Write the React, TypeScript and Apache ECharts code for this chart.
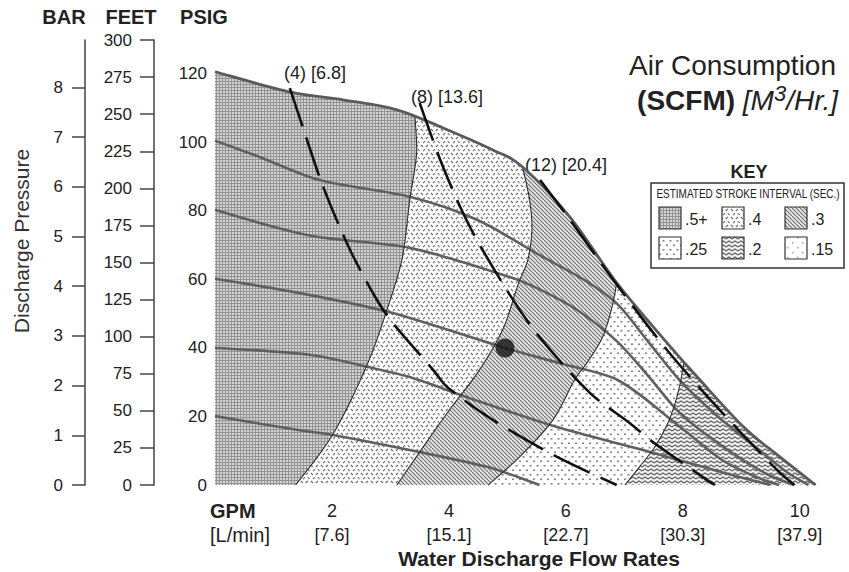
import React, { useEffect, useRef } from 'react';
import * as echarts from 'echarts';

// ---------------- data (GPM, PSIG) ----------------
const ENVELOPE_120 = [[0, 120.6], [1.28, 114.7], [2.19, 112.4], [3.11, 109.5], [3.9, 104.2], [4.75, 97.8], [5.26, 92.8], [6.07, 78.2], [6.87, 59.0], [7.73, 41.5], [8.29, 30.7], [9.06, 16.6], [9.66, 8.2], [10.27, 0]];
const AIR_100 = [[0, 100.5], [0.75, 95.8], [1.79, 89], [3.33, 84.1], [4.48, 77.4], [5.56, 67], [6.3, 60], [6.87, 53], [7.4, 42], [7.95, 30.5], [8.6, 20], [9.32, 10], [9.8, 3.5], [10.15, 0]];
const AIR_80 = [[0, 80.3], [1.62, 72.8], [3.33, 69.2], [5.04, 60.7], [5.56, 57], [6.2, 51], [6.87, 42], [7.4, 32], [7.95, 21], [8.7, 11], [9.4, 3.5], [9.9, 0]];
const AIR_60 = [[0, 60.2], [1.45, 56], [2.99, 50.4], [4.96, 40], [5.9, 35.5], [6.9, 30.5], [7.95, 17], [8.7, 7], [9.3, 2], [9.65, 0]];
const AIR_40 = [[0, 40], [1.62, 38], [2.6, 34.5], [3.33, 31.5], [4.3, 25.7], [5.85, 16.9], [7.32, 10.2], [8.34, 5.3], [9.0, 2.2], [9.5, 0]];
const AIR_20 = [[0, 20.1], [1.45, 16], [2.02, 14.6], [3.33, 10.2], [4.65, 5.3], [5.2, 2.2], [5.55, 0]];

const SCFM_4 = [[1.28, 115.8], [1.5, 104.5], [1.85, 87], [2.31, 68.6], [2.77, 54], [3.04, 47.3], [3.73, 33.6], [3.97, 28.6], [4.75, 19], [5.85, 8.2], [6.87, 0]];
const SCFM_8 = [[3.5, 111.5], [3.9, 92.8], [4.36, 75.3], [4.99, 56.9], [5.52, 43.8], [6.41, 26.9], [7.09, 18.1], [7.49, 12.5], [8.41, 1.5], [8.55, 0]];
const SCFM_12 = [[5.56, 89], [6.07, 77.4], [6.87, 58.5], [7.73, 39.4], [8.63, 21.9], [9.61, 4.4], [9.91, 0]];
const SCFM_LABELS = ['(4) [6.8]', '(8) [13.6]', '(12) [20.4]'];

// stroke-interval zone boundaries (top on envelope -> bottom on axis)
const ZONE_05_04 = [[3.42, 107.4], [3.45, 97.8], [3.4, 90.5], [3.33, 83.2], [3.2, 66], [2.94, 51.1], [2.6, 35], [2.02, 14.9], [1.38, 0]];
const ZONE_04_03 = [[5.26, 92.8], [5.38, 83.2], [5.42, 74.5], [5.35, 65.7], [5.18, 58.4], [4.92, 45.3], [4.5, 33], [3.97, 21], [3.5, 9.6], [3.11, 0]];
const ZONE_03_025 = [[6.87, 59], [6.79, 52], [6.63, 43.2], [6.36, 35.6], [6.15, 30.7], [5.78, 19], [5.21, 8.2], [4.67, 0]];
const ZONE_025_02 = [[8.02, 36], [7.95, 29.2], [7.86, 23.4], [7.73, 17.5], [7.52, 11.1], [7.26, 5.3], [7.01, 0]];

const OPERATING_POINT = [[4.96, 40]];

const GPM_TICKS = [2, 4, 6, 8, 10];
const LMIN_TICKS = ['7.6', '15.1', '22.7', '30.3', '37.9'];
const PSIG_TICKS = [0, 20, 40, 60, 80, 100, 120];
const BAR_TICKS = [0, 1, 2, 3, 4, 5, 6, 7, 8];
const FEET_STEP = 25;
const FEET_MAX = 300;
const KEY_LABELS = ['.5+', '.4', '.3', '.25', '.2', '.15'];

// unit conversions
const FEET_PER_PSI = 2.31;
const PSI_PER_BAR = 14.5038;
const PSI_MAX = FEET_MAX / FEET_PER_PSI;
const BAR_MAX = PSI_MAX / PSI_PER_BAR;
const GPM_MAX = 10.5;

const FONT = '"Liberation Sans", Arial, Helvetica, sans-serif';

// ---------------- patterns ----------------
function tile(w: number, h: number, draw: (ctx: CanvasRenderingContext2D) => void) {
  const c = document.createElement('canvas');
  c.width = w;
  c.height = h;
  const ctx = c.getContext('2d') as CanvasRenderingContext2D;
  draw(ctx);
  return { image: c.toDataURL(), repeat: 'repeat', imageWidth: w, imageHeight: h } as any;
}

function makePatterns() {
  const grid = tile(3, 3, (ctx) => {
    ctx.fillStyle = '#d4d4d4';
    ctx.fillRect(0, 0, 3, 3);
    ctx.fillStyle = '#939393';
    ctx.fillRect(0, 0, 3, 1);
    ctx.fillRect(0, 0, 1, 3);
  });
  const crush = tile(10, 8, (ctx) => {
    ctx.fillStyle = '#ffffff';
    ctx.fillRect(0, 0, 10, 8);
    ctx.strokeStyle = '#707070';
    ctx.lineWidth = 1.2;
    const segs = [[0.8, 1, 3, 3], [5.8, 3, 8, 1], [3, 7.2, 5, 5.2], [7.8, 5.2, 9.6, 7.2]];
    segs.forEach((s) => {
      ctx.beginPath();
      ctx.moveTo(s[0], s[1]);
      ctx.lineTo(s[2], s[3]);
      ctx.stroke();
    });
  });
  const stripe = tile(4, 4, (ctx) => {
    ctx.fillStyle = '#e6e6e6';
    ctx.fillRect(0, 0, 4, 4);
    ctx.strokeStyle = '#707070';
    ctx.lineWidth = 1.05;
    [-4, 0, 4].forEach((o) => {
      ctx.beginPath();
      ctx.moveTo(o, 0);
      ctx.lineTo(o + 4, 4);
      ctx.stroke();
    });
  });
  const dots = tile(7, 9, (ctx) => {
    ctx.fillStyle = '#ffffff';
    ctx.fillRect(0, 0, 7, 9);
    ctx.fillStyle = '#858585';
    ctx.fillRect(1, 1.5, 2, 1.6);
    ctx.fillRect(4.5, 6, 2, 1.6);
  });
  const wave = tile(6, 4, (ctx) => {
    ctx.fillStyle = '#f2f2f2';
    ctx.fillRect(0, 0, 6, 4);
    ctx.strokeStyle = '#626262';
    ctx.lineWidth = 1.1;
    ctx.beginPath();
    ctx.moveTo(0, 3);
    ctx.lineTo(3, 1);
    ctx.lineTo(6, 3);
    ctx.stroke();
  });
  const speck = tile(10, 10, (ctx) => {
    ctx.fillStyle = '#ffffff';
    ctx.fillRect(0, 0, 10, 10);
    ctx.fillStyle = '#a8a8a8';
    ctx.fillRect(2, 2, 1.5, 1.5);
    ctx.fillRect(7, 7, 1.5, 1.5);
  });
  return { grid, crush, stripe, dots, wave, speck };
}

// Catmull-Rom segments through pixel points (starting at px[0])
function crSegments(px: number[][]): string {
  let d = '';
  for (let i = 0; i < px.length - 1; i++) {
    const p0 = px[i - 1] || px[i];
    const p1 = px[i];
    const p2 = px[i + 1];
    const p3 = px[i + 2] || p2;
    const c1x = p1[0] + (p2[0] - p0[0]) / 6;
    const c1y = p1[1] + (p2[1] - p0[1]) / 6;
    const c2x = p2[0] - (p3[0] - p1[0]) / 6;
    const c2y = p2[1] - (p3[1] - p1[1]) / 6;
    d += ` C${c1x},${c1y} ${c2x},${c2y} ${p2[0]},${p2[1]}`;
  }
  return d;
}

export default function App() {
  const ref = useRef<HTMLDivElement>(null);

  useEffect(() => {
    if (!ref.current) return;
    const chart = echarts.init(ref.current, undefined, { renderer: 'svg' });
    const P = makePatterns();

    // regions drawn right-most first, each covering everything left of its boundary
    const regionBounds: (number[][] | null)[] = [null, ZONE_025_02, ZONE_03_025, ZONE_04_03, ZONE_05_04];
    const regionFills = [P.wave, P.dots, P.stripe, P.crush, P.grid];
    const edges = [ZONE_025_02, ZONE_03_025, ZONE_04_03, ZONE_05_04, ENVELOPE_120];

    const px = (api: any, pts: number[][]) => pts.map((p) => api.coord(p));

    const solid = (name: string, data: number[][]) => ({
      name, type: 'line', data, smooth: 0.3, symbol: 'none', silent: true, z: 3,
      lineStyle: { color: '#606060', width: 2.6 },
    });
    const dashed = (name: string, data: number[][]) => ({
      name, type: 'line', data, smooth: 0.3, symbol: 'none', silent: true, z: 5,
      lineStyle: { color: '#111111', width: 2.6, type: [40, 12], cap: 'butt' },
    });

    const txt = (x: number, y: number, text: string, size: number, extra: any = {}) => ({
      type: 'text', x, y, silent: true,
      style: {
        text, fontSize: size, fontFamily: FONT, fill: extra.fill || '#222',
        fontWeight: extra.bold ? 'bold' : 'normal', fontStyle: extra.italic ? 'italic' : 'normal',
        align: extra.align || 'center', textAlign: extra.align || 'center',
        verticalAlign: 'middle', textVerticalAlign: 'middle',
      },
      ...(extra.rotation ? { rotation: extra.rotation } : {}),
      ...(extra.scaleX ? { scaleX: extra.scaleX } : {}),
    });

    const keyFills = [P.grid, P.crush, P.stripe, P.dots, P.wave, P.speck];
    const keyCols = [659, 722, 785];
    const keyRows = [207, 237];
    const keyItems: any[] = [];
    KEY_LABELS.forEach((lab, i) => {
      const cx = keyCols[i % 3];
      const cy = keyRows[Math.floor(i / 3)];
      keyItems.push({
        type: 'rect', shape: { x: cx, y: cy, width: 22, height: 22 }, silent: true,
        style: { fill: keyFills[i], stroke: '#333', lineWidth: 1.2 },
      });
      keyItems.push(txt(cx + 26, cy + 12, lab, 16, { align: 'left' }));
    });

    const option: any = {
      animation: false,
      backgroundColor: '#ffffff',
      grid: { left: 215, right: 20, top: 40, bottom: 87, containLabel: false, outerBoundsMode: 'none' },
      xAxis: {
        type: 'value', min: 0, max: GPM_MAX, interval: 2,
        axisLine: { show: false }, axisTick: { show: false }, splitLine: { show: false },
        axisLabel: {
          margin: 14, fontSize: 18, lineHeight: 24, color: '#222', fontFamily: FONT,
          formatter: (v: number) => {
            const i = GPM_TICKS.indexOf(v);
            return i < 0 ? '' : `${v}\n[${LMIN_TICKS[i]}]`;
          },
        },
      },
      yAxis: [
        {
          type: 'value', min: 0, max: PSI_MAX, interval: 20, position: 'left', offset: 0,
          axisLine: { show: false }, axisTick: { show: false }, splitLine: { show: false },
          axisLabel: {
            margin: 8, fontSize: 17, color: '#222', fontFamily: FONT,
            formatter: (v: number) => (PSIG_TICKS.indexOf(v) < 0 ? '' : String(v)),
          },
        },
        {
          type: 'value', min: 0, max: FEET_MAX, interval: FEET_STEP, position: 'left', offset: 61,
          axisLine: { show: true, lineStyle: { color: '#444', width: 1.5 } },
          axisTick: { show: true, length: 14, lineStyle: { color: '#444', width: 1.5 } },
          splitLine: { show: false },
          axisLabel: { margin: 22, fontSize: 17, color: '#222', fontFamily: FONT },
        },
        {
          type: 'value', min: 0, max: BAR_MAX, interval: 1, position: 'left', offset: 130,
          axisLine: { show: true, lineStyle: { color: '#444', width: 1.5 } },
          axisTick: { show: true, length: 13, customValues: BAR_TICKS, lineStyle: { color: '#444', width: 1.5 } },
          splitLine: { show: false },
          axisLabel: {
            margin: 22, fontSize: 17, color: '#222', fontFamily: FONT, customValues: BAR_TICKS,
            formatter: (v: number) => (BAR_TICKS.indexOf(v) < 0 ? '' : String(v)),
          },
        },
      ],
      series: [
        {
          name: 'zones', type: 'custom', silent: true, z: 1, clip: false,
          data: regionFills.map((_, i) => [i, 0]),
          renderItem: (params: any, api: any) => {
            const i = params.dataIndex;
            const b = regionBounds[i];
            const O = api.coord([0, 0]);
            let d = '';
            if (!b) {
              const e = px(api, ENVELOPE_120);
              d = `M${O[0]},${O[1]} L${e[0][0]},${e[0][1]}` + crSegments(e) + ' Z';
            } else {
              const envPart = ENVELOPE_120.filter((p) => p[0] < b[0][0] - 0.01).concat([b[0]]);
              const e = px(api, envPart);
              const bp = px(api, b);
              d = `M${O[0]},${O[1]} L${e[0][0]},${e[0][1]}` + crSegments(e) + crSegments(bp) + ' Z';
            }
            return { type: 'path', shape: { pathData: d }, style: { fill: regionFills[i], stroke: 'none' } };
          },
        },
        solid('100 psi air', AIR_100),
        solid('80 psi air', AIR_80),
        solid('60 psi air', AIR_60),
        solid('40 psi air', AIR_40),
        solid('20 psi air', AIR_20),
        {
          name: 'edges', type: 'custom', silent: true, z: 4, clip: false,
          data: edges.map((_, i) => [i, 0]),
          renderItem: (params: any, api: any) => {
            const i = params.dataIndex;
            const pts = px(api, edges[i]);
            const isEnv = edges[i] === ENVELOPE_120;
            const d = `M${pts[0][0]},${pts[0][1]}` + crSegments(pts);
            return {
              type: 'path', shape: { pathData: d },
              style: { fill: 'none', stroke: isEnv ? '#5a5a5a' : '#2e2e2e', lineWidth: isEnv ? 2.8 : 1.1 },
            };
          },
        },
        dashed(SCFM_LABELS[0], SCFM_4),
        dashed(SCFM_LABELS[1], SCFM_8),
        dashed(SCFM_LABELS[2], SCFM_12),
        {
          name: 'operating point', type: 'scatter', data: OPERATING_POINT, symbolSize: 19, z: 6, silent: true,
          itemStyle: { color: '#111111' },
        },
      ],
      graphic: [
        txt(64, 17, 'BAR', 20, { bold: true }),
        txt(131, 17, 'FEET', 20, { bold: true }),
        txt(204, 17, 'PSIG', 20, { bold: true }),
        txt(21, 241, 'Discharge Pressure', 21, { rotation: Math.PI / 2, fill: '#333' }),
        txt(210, 511, 'GPM', 20, { bold: true, align: 'left' }),
        txt(210, 535, '[L/min]', 20, { align: 'left' }),
        txt(539, 558, 'Water Discharge Flow Rates', 21, { bold: true }),
        txt(315, 73, SCFM_LABELS[0], 18),
        txt(447, 97, SCFM_LABELS[1], 18),
        txt(566, 165, SCFM_LABELS[2], 18),
        txt(836, 65, 'Air Consumption', 28, { align: 'right' }),
        {
          type: 'text', x: 838, y: 100, silent: true,
          style: {
            text: '{b|(SCFM) }{i|[M}{s|3}{i|/Hr.]}',
            align: 'right', textAlign: 'right', verticalAlign: 'middle', textVerticalAlign: 'middle',
            fontFamily: FONT, fill: '#222',
            rich: {
              b: { fontSize: 28, fontWeight: 'bold', fontFamily: FONT, fill: '#222', lineHeight: 30 },
              i: { fontSize: 28, fontStyle: 'italic', fontFamily: FONT, fill: '#222', lineHeight: 30 },
              s: { fontSize: 22, fontStyle: 'italic', fontFamily: FONT, fill: '#222', lineHeight: 16, padding: [0, 0, 14, 0] },
            },
          },
        },
        txt(749, 172, 'KEY', 18, { bold: true }),
        {
          type: 'rect', shape: { x: 651, y: 183, width: 193, height: 85 }, silent: true,
          style: { fill: '#ffffff', stroke: '#333', lineWidth: 1.5 },
        },
        txt(748, 194, 'ESTIMATED STROKE INTERVAL (SEC.)', 12.5, { scaleX: 0.8 }),
        ...keyItems,
      ],
    };
    chart.setOption(option);
    return () => chart.dispose();
  }, []);

  return (
    <div
      ref={ref}
      style={{ position: 'absolute', left: 0, top: 0, width: 849, height: 572, background: '#fff' }}
    />
  );
}
